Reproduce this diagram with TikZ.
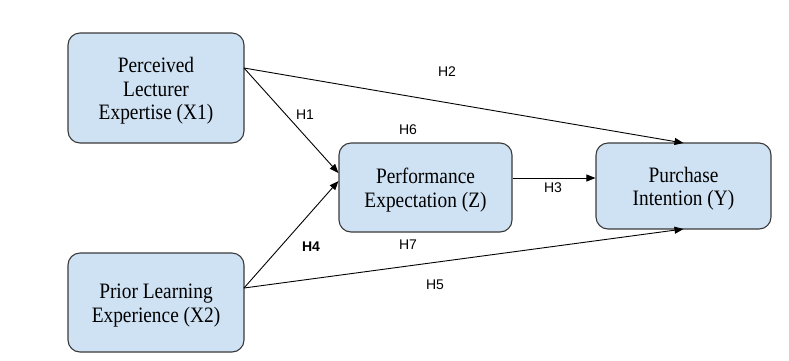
\documentclass[tikz,border=0pt]{standalone}
\usepackage{fontspec}
\setmainfont[FakeStretch=0.88]{Liberation Serif}
\newfontfamily\labfont{Liberation Sans}
\usetikzlibrary{arrows.meta}
\definecolor{boxfill}{HTML}{CFE2F3}
\definecolor{boxline}{HTML}{3A3A3A}
\newcommand\dnstrut{\rule{0pt}{21pt}}
\begin{document}
\begin{tikzpicture}[x=1pt,y=-1pt,
  box/.style={draw=boxline,line width=1.1pt,fill=boxfill,rounded corners=12pt,align=center,font=\fontsize{22}{23.5}\selectfont,inner sep=0pt},
  conn/.style={line width=0.9pt,-{Triangle[length=9pt,width=7pt]}},
  lab/.style={font=\labfont\fontsize{14}{16}\selectfont,inner sep=1pt}]
\useasboundingbox (0,0) rectangle (789,360);
\node[box,minimum width=176pt,minimum height=110pt] (x1) at (156,88) {\dnstrut Perceived\\Lecturer\\Expertise (X1)};
\node[box,minimum width=176pt,minimum height=99pt] (x2) at (156,302.5) {\dnstrut Prior Learning\\Experience (X2)};
\node[box,minimum width=173pt,minimum height=89pt] (z) at (425.5,187.5) {\dnstrut Performance\\Expectation (Z)};
\node[box,minimum width=175pt,minimum height=86pt] (y) at (683.5,186) {\dnstrut Purchase\\Intention (Y)};
\coordinate (x1o) at (244,68);
\coordinate (x2o) at (244,288);
\draw[conn] (x1o) -- (z.west |- 0,173);
\draw[conn] (x2o) -- (z.west |- 0,181);
\draw[conn] (x1o) -- (y.north |- 0,143);
\draw[conn] (x2o) -- (y.south |- 0,229);
\draw[conn] (z.east |- 0,178) -- (y.west |- 0,178);
\node[lab] (h1) at (305,115) {H1};
\node[lab] (h2) at (447,72) {H2};
\node[lab] (h6) at (408,130) {H6};
\node[lab] (h3) at (553,188) {H3};
\node[lab,font=\labfont\bfseries\fontsize{14}{16}\selectfont] (h4) at (311,247) {H4};
\node[lab] (h7) at (408,245) {H7};
\node[lab] (h5) at (435,285) {H5};
\end{tikzpicture}
\end{document}
